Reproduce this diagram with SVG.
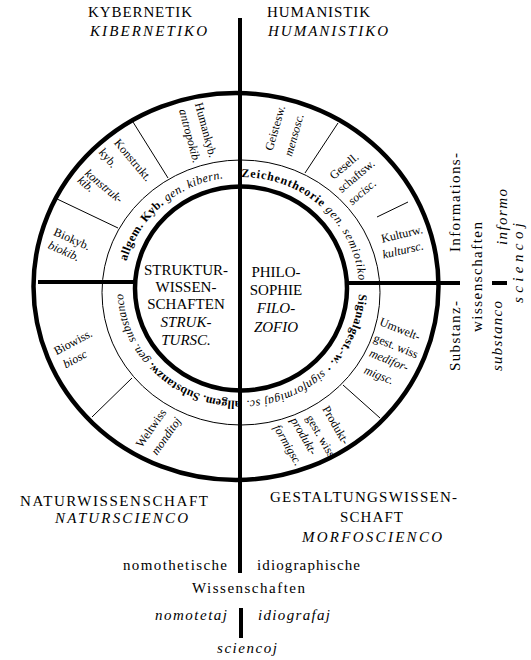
<svg xmlns="http://www.w3.org/2000/svg" width="531" height="660" viewBox="0 0 531 660">
<style>
text{font-family:"Liberation Serif","Times New Roman",serif;fill:#000}
.t{font-size:15px}
.i{font-style:italic}
.n{font-weight:normal}
.s{font-size:12px}
.r{font-size:12px;font-weight:bold}
.thick{fill:none;stroke:#000;stroke-width:4.5}
.thin{fill:none;stroke:#000;stroke-width:1}
.ax{stroke:#000;stroke-width:4;fill:none}
</style>
<defs>
<path id="ringpath" d="M123,289 A118,112 0 1,1 359,289 A118,112 0 1,1 123,289 A118,112 0 1,1 359,289"/>
</defs>
<rect width="531" height="660" fill="#fff"/>

<g id="frame">
<ellipse class="thick" cx="236" cy="286.5" rx="202.5" ry="193.5"/>
<ellipse class="thin" cx="241" cy="292.5" rx="139" ry="132.5"/>
<ellipse class="thick" cx="241" cy="288.5" rx="106" ry="102" stroke-width="5"/>
</g>

<g id="connectors">
<line class="ax" x1="240" y1="18" x2="240" y2="573"/>
<line class="ax" x1="38" y1="282" x2="137" y2="282"/>
<line class="ax" x1="345" y1="283" x2="460" y2="283"/>
<line class="ax" x1="241" y1="608" x2="241" y2="638"/>
<line class="ax" x1="492" y1="283" x2="507" y2="283"/>
<line class="thin" x1="133" y1="122" x2="168" y2="178"/>
<line class="thin" x1="55" y1="198" x2="118" y2="228"/>
<line class="thin" x1="338" y1="123" x2="305" y2="173"/>
<line class="thin" x1="408" y1="202" x2="377" y2="217"/>
<line class="thin" x1="343" y1="385" x2="380" y2="418"/>
<line class="thin" x1="132" y1="378" x2="92" y2="417"/>
</g>

<g id="kybernetik">
<text class="t" x="88" y="17" textLength="104" lengthAdjust="spacing">KYBERNETIK</text>
<text class="t i" x="90" y="36" textLength="117" lengthAdjust="spacing">KIBERNETIKO</text>
</g>
<g id="humanistik">
<text class="t" x="267" y="17" textLength="103" lengthAdjust="spacing">HUMANISTIK</text>
<text class="t i" x="268" y="36" textLength="120" lengthAdjust="spacing">HUMANISTIKO</text>
</g>
<g id="naturwissenschaft">
<text class="t" x="20" y="506" textLength="188" lengthAdjust="spacing">NATURWISSENSCHAFT</text>
<text class="t i" x="55" y="523" textLength="133" lengthAdjust="spacing">NATURSCIENCO</text>
</g>
<g id="gestaltungswissenschaft">
<text class="t" x="270" y="502" textLength="187" lengthAdjust="spacing">GESTALTUNGSWISSEN-</text>
<text class="t" x="340" y="522" textLength="63" lengthAdjust="spacing">SCHAFT</text>
<text class="t i" x="302" y="542" textLength="140" lengthAdjust="spacing">MORFOSCIENCO</text>
</g>
<g id="wissenschaften-bottom">
<text class="t" x="123" y="570" textLength="104" lengthAdjust="spacing">nomothetische</text>
<text class="t" x="257" y="570" textLength="103" lengthAdjust="spacing">idiographische</text>
<text class="t" x="192" y="593" textLength="113" lengthAdjust="spacing">Wissenschaften</text>
<text class="t i" x="155" y="620" textLength="72" lengthAdjust="spacing">nomotetaj</text>
<text class="t i" x="258" y="620" textLength="72" lengthAdjust="spacing">idiografaj</text>
<text class="t i" x="217" y="653" textLength="60" lengthAdjust="spacing">sciencoj</text>
</g>
<g id="wissenschaften-right">
<text class="t" transform="translate(460,252) rotate(-90)" textLength="99" lengthAdjust="spacing">Informations-</text>
<text class="t" transform="translate(460,371) rotate(-90)" textLength="70" lengthAdjust="spacing">Substanz-</text>
<text class="t" transform="translate(482,332) rotate(-90)" textLength="110" lengthAdjust="spacing">wissenschaften</text>
<text class="t i" transform="translate(507,245) rotate(-90)" textLength="56" lengthAdjust="spacing">informo</text>
<text class="t i" transform="translate(502,371) rotate(-90)" textLength="70" lengthAdjust="spacing">substanco</text>
<text class="t i" transform="translate(523,303) rotate(-90)" textLength="80" lengthAdjust="spacing">sciencoj</text>
</g>

<g id="strukturwissenschaften">
<text class="t" x="186" y="275" text-anchor="middle">STRUKTUR-</text>
<text class="t" x="186" y="292" text-anchor="middle">WISSEN-</text>
<text class="t" x="186" y="309" text-anchor="middle">SCHAFTEN</text>
<text class="t i" x="186" y="327" text-anchor="middle">STRUK-</text>
<text class="t i" x="186" y="345" text-anchor="middle">TURSC.</text>
</g>
<g id="philosophie">
<text class="t" x="276" y="277" text-anchor="middle">PHILO-</text>
<text class="t" x="276" y="295" text-anchor="middle">SOPHIE</text>
<text class="t i" x="276" y="313" text-anchor="middle">FILO-</text>
<text class="t i" x="276" y="332" text-anchor="middle">ZOFIO</text>
</g>

<g id="ring-kyb">
<text class="r" letter-spacing="0.4"><textPath href="#ringpath" startOffset="28">allgem. Kyb. <tspan class="i n">gen. kibern.</tspan></textPath></text>
</g>
<g id="ring-zeichen">
<text class="r" letter-spacing="0.8"><textPath href="#ringpath" startOffset="181">Zeichentheorie <tspan class="i n">gen. semiotiko</tspan></textPath></text>
</g>
<g id="ring-signal">
<text class="r" letter-spacing="0.4"><textPath href="#ringpath" startOffset="366">Signalgest.-w. · <tspan class="i n">signformigaj sc.</tspan></textPath></text>
</g>
<g id="ring-substanz">
<text class="r" letter-spacing="0.1"><textPath href="#ringpath" startOffset="542">allgem. Substanzw. <tspan class="i n">gen. substanco</tspan></textPath></text>
</g>

<g id="humankyb">
<text class="s" transform="translate(206,130) rotate(75)" y="4" text-anchor="middle">Humankyb.</text>
<text class="s i" transform="translate(190,136) rotate(75)" y="4" text-anchor="middle">antropokib.</text>
</g>
<g id="konstruktkyb">
<text class="s" transform="translate(133,160) rotate(50)" y="4" text-anchor="middle">Konstrukt.</text>
<text class="s" transform="translate(108,158) rotate(50)" y="4" text-anchor="middle">kyb.</text>
<text class="s i" transform="translate(104,186) rotate(40)" y="4" text-anchor="middle">konstruk-</text>
<text class="s i" transform="translate(86,184) rotate(40)" y="4" text-anchor="middle">kib.</text>
</g>
<g id="biokyb">
<text class="s" transform="translate(72,239) rotate(24)" y="4" text-anchor="middle">Biokyb.</text>
<text class="s i" transform="translate(64,251) rotate(24)" y="4" text-anchor="middle">biokib.</text>
</g>
<g id="geisteswiss">
<text class="s" transform="translate(275,128) rotate(-74)" y="4" text-anchor="middle">Geistesw.</text>
<text class="s i" transform="translate(294,135) rotate(-74)" y="4" text-anchor="middle">mensosc.</text>
</g>
<g id="gesellschaftswiss">
<text class="s" transform="translate(344,166) rotate(-40)" y="4" text-anchor="middle">Gesell.</text>
<text class="s" transform="translate(356,176) rotate(-40)" y="4" text-anchor="middle">schaftsw.</text>
<text class="s i" transform="translate(362,192) rotate(-40)" y="4" text-anchor="middle">socisc.</text>
</g>
<g id="kulturwiss">
<text class="s" transform="translate(402,234) rotate(-13)" y="4" text-anchor="middle">Kulturw.</text>
<text class="s i" transform="translate(403,250) rotate(-13)" y="4" text-anchor="middle">kultursc.</text>
</g>
<g id="umweltgest">
<text class="s" transform="translate(400,329) rotate(22)" y="4" text-anchor="middle">Umwelt-</text>
<text class="s" transform="translate(396,346) rotate(22)" y="4" text-anchor="middle">gest. wiss</text>
<text class="s i" transform="translate(389,360) rotate(22)" y="4" text-anchor="middle">medifor-</text>
<text class="s i" transform="translate(379,375) rotate(22)" y="4" text-anchor="middle">migsc.</text>
</g>
<g id="produktgest">
<text class="s" transform="translate(336,425) rotate(60)" y="4" text-anchor="middle">Produkt-</text>
<text class="s" transform="translate(321,436) rotate(60)" y="4" text-anchor="middle">gest. wiss</text>
<text class="s i" transform="translate(304,436) rotate(60)" y="4" text-anchor="middle">produkt-</text>
<text class="s i" transform="translate(288,445) rotate(60)" y="4" text-anchor="middle">formigsc.</text>
</g>
<g id="weltwiss">
<text class="s" transform="translate(151,428) rotate(-55)" y="4" text-anchor="middle">Weltwiss</text>
<text class="s i" transform="translate(166,436) rotate(-55)" y="4" text-anchor="middle">monditoj</text>
</g>
<g id="biowiss">
<text class="s" transform="translate(73,342) rotate(-28)" y="4" text-anchor="middle">Biowiss.</text>
<text class="s i" transform="translate(75,359) rotate(-28)" y="4" text-anchor="middle">biosc</text>
</g>
</svg>
